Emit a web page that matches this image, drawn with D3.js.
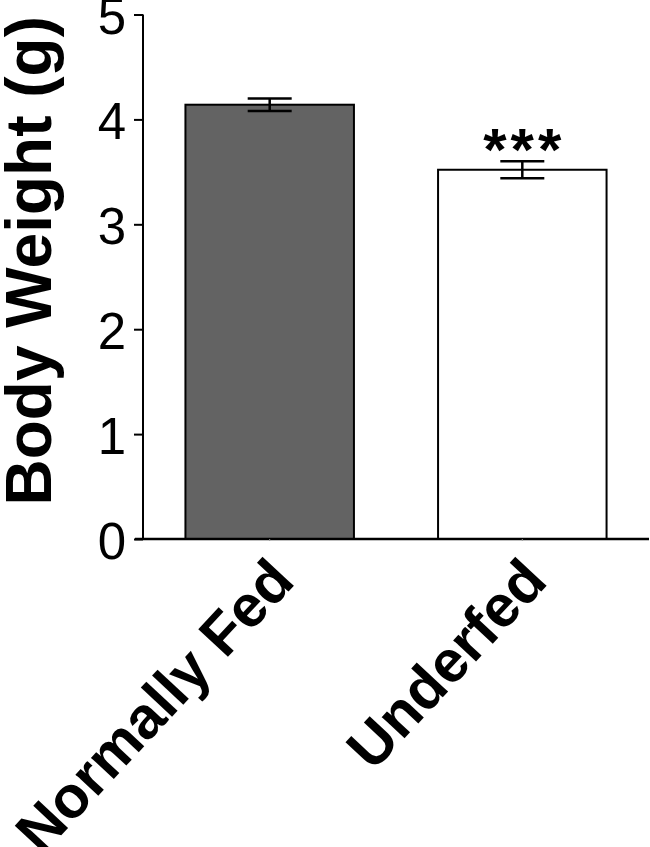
<!DOCTYPE html>
<html>
<head>
<meta charset="utf-8">
<script src="https://cdn.jsdelivr.net/npm/d3@7"></script>
<style>
  body { margin: 0; background: #fff; }
  svg { display: block; font-family: "Liberation Sans", Arial, sans-serif; }
</style>
</head>
<body>
<svg class="svg"></svg>
<script>
// data
const groups = ["Normally Fed", "Underfed"];
const means = [4.14, 3.52];
const sems = [0.06, 0.08];
const signif = ["", "***"];
const fills = ["#636363", "#ffffff"];
const yTicks = [0, 1, 2, 3, 4, 5];

const width = 650, height = 847;
const plotLeft = 143, plotBottom = 539, plotTop = 14.5;

const svg = d3.select(".svg")
  .attr("width", width)
  .attr("height", height)

const x = d3.scaleBand()
  .domain(groups)
  .range([plotLeft, 649])
  .paddingInner(0.333)
  .paddingOuter(0.168)

const y = d3.scaleLinear()
  .domain([0, 5])
  .range([plotBottom, plotTop])

const g = svg.append("g")

// bars
g.selectAll("rect.bar")
  .data(groups)
  .join("rect")
  .attr("class", "bar")
  .attr("x", d => x(d))
  .attr("y", (d, i) => y(means[i]))
  .attr("width", x.bandwidth())
  .attr("height", (d, i) => y(0) - y(means[i]))
  .attr("fill", (d, i) => fills[i])
  .attr("stroke", "#000")
  .attr("stroke-width", 2)

// error bars
const capW = 44;
const err = g.selectAll("g.err")
  .data(groups)
  .join("g")
  .attr("class", "err")
  .attr("stroke", "#000")
  .attr("stroke-width", 2.5)

err.append("line")
  .attr("x1", d => x(d) + x.bandwidth() / 2)
  .attr("x2", d => x(d) + x.bandwidth() / 2)
  .attr("y1", (d, i) => y(means[i] + sems[i]))
  .attr("y2", (d, i) => y(means[i] - sems[i]))

err.append("line")
  .attr("x1", d => x(d) + x.bandwidth() / 2 - capW / 2)
  .attr("x2", d => x(d) + x.bandwidth() / 2 + capW / 2)
  .attr("y1", (d, i) => y(means[i] + sems[i]))
  .attr("y2", (d, i) => y(means[i] + sems[i]))

err.append("line")
  .attr("x1", d => x(d) + x.bandwidth() / 2 - capW / 2)
  .attr("x2", d => x(d) + x.bandwidth() / 2 + capW / 2)
  .attr("y1", (d, i) => y(means[i] - sems[i]))
  .attr("y2", (d, i) => y(means[i] - sems[i]))

// significance stars
g.selectAll("text.sig")
  .data(groups)
  .join("text")
  .attr("class", "sig")
  .attr("x", d => x(d) + x.bandwidth() / 2 + 2)
  .attr("y", (d, i) => y(means[i] + sems[i]) + 8.5)
  .attr("text-anchor", "middle")
  .attr("font-weight", "bold")
  .attr("letter-spacing", 4)
  .style("font-size", "60px")
  .text((d, i) => signif[i])

// y axis
const yAxis = g.append("g")
  .attr("transform", `translate(${plotLeft},0)`)
  .call(d3.axisLeft(y).tickValues(yTicks).tickSize(9).tickPadding(8).tickFormat(d3.format("d")))

yAxis.select(".domain").attr("stroke-width", 2).attr("d", `M0,${plotBottom}V${plotTop}`)
yAxis.selectAll(".tick line").attr("stroke-width", 2)
yAxis.selectAll(".tick text")
  .style("font-size", "51px")
  .attr("dy", "0.38em")
  .attr("font-family", "Liberation Sans, Arial, sans-serif")
  .attr("fill", "#000")

// x axis
const xAxis = g.append("g")
  .attr("transform", `translate(0,${plotBottom})`)
  .call(d3.axisBottom(x).tickSize(2).tickFormat(""))

xAxis.select(".domain").attr("stroke-width", 2.5).attr("d", `M${plotLeft - 8},0H649`)
xAxis.selectAll(".tick line").attr("stroke", "#999").attr("stroke-width", 1)

// category labels, rotated
g.selectAll("text.cat")
  .data(groups)
  .join("text")
  .attr("class", "cat")
  .attr("text-anchor", "end")
  .attr("font-weight", "bold")
  .style("font-size", "59px")
  .attr("transform", d => `translate(${x(d) + x.bandwidth() / 2 + 27},${plotBottom + 44}) rotate(-47)`)
  .text(d => d)

// y title
svg.append("text")
  .attr("text-anchor", "middle")
  .attr("font-weight", "bold")
  .style("font-size", "64px")
  .attr("transform", `translate(51,${(plotTop + 505) / 2 + 1}) rotate(-90)`)
  .text("Body Weight (g)")
</script>
</body>
</html>
